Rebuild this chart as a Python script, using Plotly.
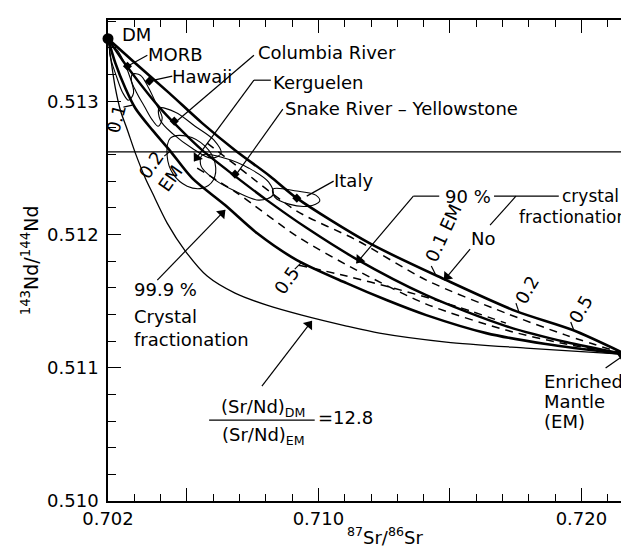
import math
import plotly.graph_objects as go

# ---- data ----
DM = (0.7020, 0.51347)
EM = (0.7217, 0.51110)
CHUR_ND = 0.51262

# "No crystal fractionation" mixing curve (upper bold)
no_frac_x = [0.7020, 0.70304, 0.70433, 0.70558, 0.70683, 0.70816, 0.70918, 0.71194, 0.71486, 0.71751, 0.71967, 0.7217]
no_frac_y = [0.51347, 0.513286, 0.513061, 0.512836, 0.512633, 0.512438, 0.512273, 0.511935, 0.511658, 0.511425, 0.511283, 0.51110]

# "90 % crystal fractionation" curve
frac90_x = [0.7020, 0.70255, 0.70312, 0.70388, 0.70463, 0.70558, 0.70683, 0.70804, 0.70956, 0.71138, 0.71410, 0.71713, 0.71941, 0.7217]
frac90_y = [0.51347, 0.513308, 0.513158, 0.512971, 0.512813, 0.512633, 0.512438, 0.512258, 0.512048, 0.511823, 0.511545, 0.511313, 0.511193, 0.51110]

# "99.9 % crystal fractionation" curve
frac999_x = [0.7020, 0.70228, 0.70266, 0.70304, 0.70369, 0.70437, 0.70520, 0.70645, 0.70766, 0.70918, 0.71107, 0.71259, 0.71410, 0.71638, 0.71865, 0.7217]
frac999_y = [0.51347, 0.513286, 0.513098, 0.512948, 0.512783, 0.512626, 0.512423, 0.512221, 0.512011, 0.511808, 0.511635, 0.511508, 0.511395, 0.511260, 0.511178, 0.51110]

# (Sr/Nd)DM/(Sr/Nd)EM = 12.8 curve (thin)
ratio_x = [0.7020, 0.70213, 0.70228, 0.70247, 0.70274, 0.70304, 0.70342, 0.70369, 0.70425, 0.70494, 0.70577, 0.70683, 0.70804, 0.70937, 0.71107, 0.71232, 0.71486, 0.71789, 0.7217]
ratio_y = [0.51347, 0.513286, 0.513098, 0.512933, 0.512783, 0.512611, 0.512423, 0.512311, 0.512086, 0.511876, 0.511688, 0.511560, 0.511470, 0.511395, 0.511313, 0.511260, 0.511193, 0.511148, 0.51110]

# dashed curves
dash1_x = [0.70577, 0.70691, 0.70918, 0.71145, 0.71410, 0.71713, 0.71941, 0.7217]
dash1_y = [0.512686, 0.512513, 0.512176, 0.511958, 0.511658, 0.511410, 0.511245, 0.51110]
dash2_x = [0.70539, 0.70691, 0.70918, 0.71145, 0.71410, 0.71713, 0.71941, 0.7217]
dash2_y = [0.512498, 0.512311, 0.511988, 0.511733, 0.511478, 0.511283, 0.511178, 0.51110]
dash3_x = [0.70926, 0.71107, 0.71285, 0.71486, 0.71713]
dash3_y = [0.511770, 0.511688, 0.511598, 0.511485, 0.511335]

# data fields (outlines)
morb_x = [0.70209, 0.70232, 0.70259, 0.70285, 0.70297, 0.70278, 0.70255, 0.70232, 0.70213, 0.70206, 0.70209]
morb_y = [0.513413, 0.513391, 0.513301, 0.513173, 0.513061, 0.513008, 0.513068, 0.513188, 0.513301, 0.513368, 0.513413]
hawaii_x = [0.70293, 0.70323, 0.70353, 0.70384, 0.70406, 0.70391, 0.70369, 0.70338, 0.70308, 0.70289, 0.70293]
hawaii_y = [0.513203, 0.513196, 0.513106, 0.512978, 0.512873, 0.512813, 0.512858, 0.512963, 0.513068, 0.513158, 0.513203]
columbia_x = [0.70395, 0.70456, 0.70531, 0.70603, 0.70630, 0.70592, 0.70520, 0.70448, 0.70399, 0.70395]
columbia_y = [0.512948, 0.512918, 0.512813, 0.512708, 0.512611, 0.512573, 0.512648, 0.512753, 0.512858, 0.512948]
kerguelen_x = [0.70437, 0.70501, 0.70569, 0.70607, 0.70600, 0.70558, 0.70501, 0.70448, 0.70425, 0.70437]
kerguelen_y = [0.512723, 0.512738, 0.512663, 0.512536, 0.512408, 0.512348, 0.512363, 0.512453, 0.512588, 0.512723]
snake_x = [0.70558, 0.70645, 0.70736, 0.70811, 0.70827, 0.70774, 0.70683, 0.70603, 0.70554, 0.70558]
snake_y = [0.512596, 0.512573, 0.512498, 0.512393, 0.512296, 0.512258, 0.512326, 0.512416, 0.512513, 0.512596]
italy_x = [0.70827, 0.70918, 0.70990, 0.71005, 0.70963, 0.70888, 0.70834, 0.70827]
italy_y = [0.512341, 0.512326, 0.512296, 0.512251, 0.512213, 0.512228, 0.512281, 0.512341]

# points on the mixing curves
dots_x = [0.70274, 0.70357, 0.70452, 0.70683, 0.70918]
dots_y = [0.513263, 0.513151, 0.512851, 0.512453, 0.512273]

x_tickvals = [0.702, 0.705, 0.710, 0.715, 0.720]
x_ticktext = ["0.702", "", "0.710", "", "0.720"]
y_tickvals = [0.510, 0.511, 0.512, 0.513]
y_ticktext = ["0.510", "0.511", "0.512", "0.513"]

# ---- layout helpers (pixel -> data / paper, for label placement only) ----
L, R, T, B = 100, 628, 12, 493

def X(px):
    return 0.702 + (px - 100.5) / 26400.0

def Y(py):
    return 0.510 + (493.0 - py) / 133300.0

def PX(px):
    return (px - L) / (R - L)

def PY(py):
    return (B - py) / (B - T)

FONT = "DejaVu Sans"
fig = go.Figure()

def curve(x, y, width, dash="solid"):
    fig.add_trace(go.Scatter(x=x, y=y, mode="lines",
                             line=dict(color="black", width=width, dash=dash, shape="spline", smoothing=0.8),
                             hoverinfo="skip", showlegend=False))

curve(no_frac_x, no_frac_y, 2.6)
curve(frac90_x, frac90_y, 2.4)
curve(frac999_x, frac999_y, 2.6)
curve(ratio_x, ratio_y, 1.3)
curve(dash1_x, dash1_y, 1.5, "8px,6px")
curve(dash2_x, dash2_y, 1.5, "8px,6px")
curve(dash3_x, dash3_y, 1.5, "8px,6px")

for fx, fy in [(morb_x, morb_y), (hawaii_x, hawaii_y), (columbia_x, columbia_y),
               (kerguelen_x, kerguelen_y), (snake_x, snake_y), (italy_x, italy_y)]:
    fig.add_trace(go.Scatter(x=fx, y=fy, mode="lines",
                             line=dict(color="black", width=1.1, shape="spline", smoothing=1.0),
                             hoverinfo="skip", showlegend=False))

fig.add_trace(go.Scatter(x=dots_x, y=dots_y, mode="markers",
                         marker=dict(color="black", size=7, symbol="diamond"),
                         hoverinfo="skip", showlegend=False))
fig.add_trace(go.Scatter(x=[DM[0], EM[0]], y=[DM[1], EM[1]], mode="markers",
                         marker=dict(color="black", size=11), cliponaxis=False,
                         hoverinfo="skip", showlegend=False))

# CHUR reference line
fig.add_shape(type="line", x0=0.702, x1=0.722, y0=CHUR_ND, y1=CHUR_ND,
              line=dict(color="black", width=1.4), layer="below")

ann = []

def label(txt, px, py, size=18, angle=0, xanchor="center", align="center"):
    ann.append(dict(x=PX(px), y=PY(py), xref="paper", yref="paper", text=txt, showarrow=False,
                    font=dict(family=FONT, size=size, color="black"),
                    textangle=angle, xanchor=xanchor, yanchor="middle", align=align,
                    borderpad=0))

label("DM", 129, 26)
label("MORB", 168, 46)
label("Hawaii", 194, 69)
label("Columbia River", 320, 44)
label("Kerguelen", 311, 75)
label("Snake River – Yellowstone", 395, 100)
label("Italy", 346, 173)
label("90 %", 461, 189)
label("crystal", 614, 188, size=17, xanchor="right")
label("fractionation", 622, 209, size=17, xanchor="right")
label("No", 476, 230)
label("0.1 EM", 437, 225, angle=-65)
label("0.2", 521, 282, angle=-60)
label("0.5", 574, 301, angle=-60)
label("0.1", 108, 110, angle=-75)
label("0.2<br>EM", 153, 163, angle=-55)
label("0.5", 279, 272, angle=-55)
label("99.9 %", 125, 282, xanchor="left")
label("Crystal", 125, 308, xanchor="left")
label("fractionation", 125, 331, xanchor="left")
label("(Sr/Nd)<sub>DM</sub>", 256, 400)
label("(Sr/Nd)<sub>EM</sub>", 256, 428)
label("=12.8", 310, 410, xanchor="left")
label("Enriched", 537, 373, xanchor="left")
label("Mantle", 537, 393, xanchor="left")
label("(EM)", 537, 413, xanchor="left")

# axis titles
label("<sup>87</sup>Sr/<sup>86</sup>Sr", 378, 528, size=18)
label("<sup>143</sup>Nd/<sup>144</sup>Nd", 22, 252, size=19, angle=-90)

# leader lines (pixel positions of label connectors), head=True -> arrowhead at end
leaders = [
    ((140, 47), (120, 58), False),
    ((165, 68), (142, 73), False),
    ((247, 47), (167, 115), False),
    ((264, 72), (247, 72), False),
    ((247, 72), (187, 153), True),
    ((276, 101), (228, 168), False),
    ((327, 173), (300, 188), False),
    ((433, 188), (407, 188), False),
    ((407, 188), (350, 255), True),
    ((488, 188), (553, 188), False),
    ((510, 188), (484, 217), False),
    ((464, 241), (438, 272), True),
    ((150, 272), (218, 202), True),
    ((255, 378), (305, 313), True),
    ((600, 360), (620, 346), True),
    # ticks linking the fraction labels to the curves
    ((425, 258), (429, 266), False),
    ((510, 295), (513, 304), False),
    ((565, 314), (568, 322), False),
    ((116, 99), (125, 97), False),
    ((157, 148), (163, 143), False),
    ((288, 261), (294, 255), False),
]

head_x, head_y, head_ang = [], [], []
for (p0, p1, head) in leaders:
    fig.add_shape(type="line", xref="x", yref="y",
                  x0=X(p0[0]), y0=Y(p0[1]), x1=X(p1[0]), y1=Y(p1[1]),
                  line=dict(color="black", width=1.2))
    if head:
        dx, dy = p1[0] - p0[0], p1[1] - p0[1]
        n = math.hypot(dx, dy)
        cx, cy = p1[0] - 4.5 * dx / n, p1[1] - 4.5 * dy / n
        head_x.append(X(cx))
        head_y.append(Y(cy))
        head_ang.append(math.degrees(math.atan2(dx, -dy)))

fig.add_trace(go.Scatter(x=head_x, y=head_y, mode="markers",
                         marker=dict(symbol="triangle-up", size=10, color="black", angle=head_ang,
                                     line=dict(width=0)),
                         hoverinfo="skip", showlegend=False))

# fraction bar
fig.add_shape(type="line", x0=X(202), x1=X(308), y0=Y(412), y1=Y(412),
              line=dict(color="black", width=1.3))

axis_common = dict(showline=True, linecolor="black", linewidth=1.6, mirror="ticks",
                   ticks="inside", tickcolor="black", tickwidth=1.3, ticklen=13,
                   showgrid=False, zeroline=False,
                   tickfont=dict(family=FONT, size=18, color="black"))

fig.update_layout(
    width=629, height=550, autosize=False,
    margin=dict(l=L, r=629 - R, t=T, b=550 - B),
    paper_bgcolor="white", plot_bgcolor="white",
    showlegend=False,
    annotations=ann,
    xaxis=dict(range=[0.702, 0.722], tickvals=x_tickvals, ticktext=x_ticktext,
               minor=dict(dtick=0.001, tick0=0.702, ticks="inside", ticklen=7, tickcolor="black", tickwidth=1.2),
               ticklabelstandoff=1, **axis_common),
    yaxis=dict(range=[0.510, 0.51361], tickvals=y_tickvals, ticktext=y_ticktext,
               minor=dict(dtick=0.0002, tick0=0.510, ticks="inside", ticklen=8, tickcolor="black", tickwidth=1.2),
               ticklabelstandoff=4, **axis_common),
)

fig.write_html("out.html")
